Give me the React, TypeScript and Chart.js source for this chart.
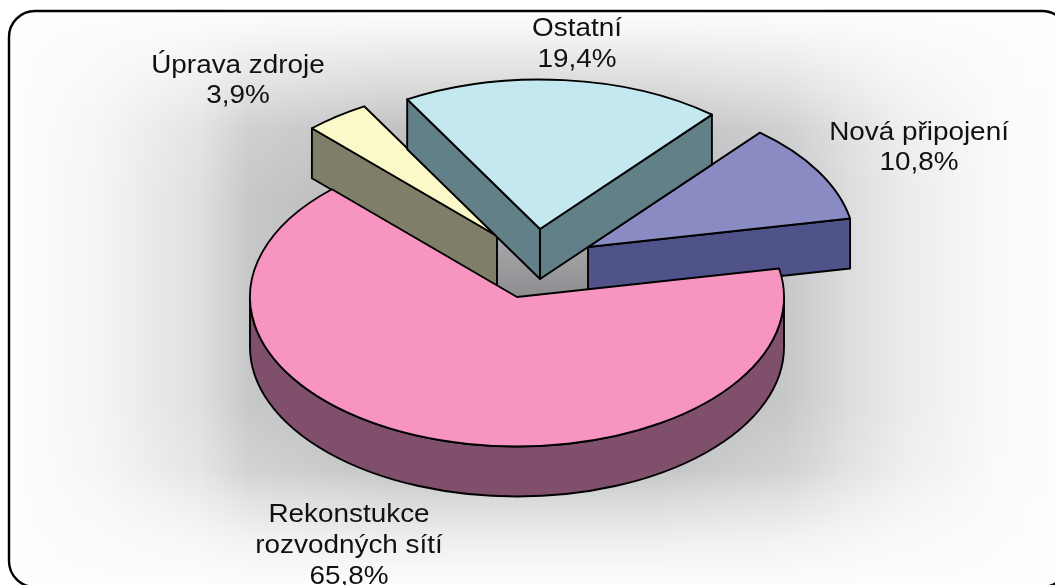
import React, { useEffect, useRef } from "react";
import { Chart, registerables } from "chart.js";

Chart.register(...registerables);

const categories = ["Rekonstukce rozvodných sítí", "Úprava zdroje", "Ostatní", "Nová připojení"];
const shares = [65.8, 3.9, 19.4, 10.8];
const labelLines = [
  ["Rekonstukce", "rozvodných sítí", "65,8%"],
  ["Úprava zdroje", "3,9%"],
  ["Ostatní", "19,4%"],
  ["Nová připojení", "10,8%"],
];
const topColors = ["#F795C0", "#FCF9C8", "#C3E8F0", "#8B8BC4"];
const wallColors = ["#7F4F6B", "#7F7E68", "#628088", "#50538A"];

// presentation of the 3-D view
const SQUASH = 0.56;
const DEPTH = 50;
const explode = [
  { dx: 0, dy: 0 },
  { dx: -20, dy: -61 },
  { dx: 23, dy: -68 },
  { dx: 71, dy: -50 },
];
const labelPos = [
  { x: 349, y: [522, 553, 584] },
  { x: 238, y: [73, 103] },
  { x: 577, y: [36, 67] },
  { x: 919, y: [140, 170] },
];
const glowX: [number, number][] = [
  [9, 0], [30, 0.02], [100, 0.13], [200, 0.42], [250, 0.76], [400, 1],
  [650, 1], [785, 0.76], [850, 0.46], [900, 0.27], [1000, 0.04], [1055, 0],
];
const glowY: [number, number][] = [
  [11, 0], [30, 0.1], [80, 0.45], [130, 0.85], [200, 1], [400, 1],
  [470, 0.8], [500, 0.5], [540, 0.2], [585, 0],
];
const GLOW_MAX = 0.28;

const pie3d = {
  id: "pie3d",
  beforeDraw(chart: any) {
    const { ctx, width, height } = chart;
    ctx.save();
    ctx.fillStyle = "#ffffff";
    ctx.fillRect(0, 0, width, height);

    const layer = document.createElement("canvas");
    layer.width = width;
    layer.height = height;
    const lc = layer.getContext("2d")!;
    const h = lc.createLinearGradient(0, 0, width, 0);
    glowX.forEach(([x, a]) => h.addColorStop(x / width, `rgba(0,2,8,${a * GLOW_MAX})`));
    lc.fillStyle = h;
    lc.fillRect(0, 0, width, height);
    lc.globalCompositeOperation = "destination-in";
    const v = lc.createLinearGradient(0, 0, 0, height);
    glowY.forEach(([y, a]) => v.addColorStop(y / height, `rgba(0,0,0,${a})`));
    lc.fillStyle = v;
    lc.fillRect(0, 0, width, height);

    ctx.beginPath();
    ctx.roundRect(9, 11, 1059, 576, 26);
    ctx.save();
    ctx.clip();
    ctx.fillStyle = "#fdfdfd";
    ctx.fillRect(0, 0, width, height);
    ctx.drawImage(layer, 0, 0);
    ctx.restore();
    ctx.strokeStyle = "#000";
    ctx.lineWidth = 2.4;
    ctx.stroke();
    ctx.restore();
  },
  beforeDatasetsDraw(chart: any) {
    const { ctx } = chart;
    const arcs = chart.getDatasetMeta(0).data;
    const edge = () => {
      ctx.strokeStyle = "#000";
      ctx.lineWidth = 1.9;
      ctx.lineJoin = "round";
      ctx.stroke();
    };
    const geom = (i: number) => {
      const p = arcs[i].getProps(["x", "y", "startAngle", "endAngle", "outerRadius"], true);
      const cx = p.x + explode[i].dx;
      const cy = p.y + explode[i].dy;
      const at = (a: number) => [cx + p.outerRadius * Math.cos(a), cy + p.outerRadius * SQUASH * Math.sin(a)];
      return { ...p, cx, cy, at, ry: p.outerRadius * SQUASH };
    };
    const quad = (a: number[], b: number[], color: string) => {
      ctx.beginPath();
      ctx.moveTo(a[0], a[1]);
      ctx.lineTo(b[0], b[1]);
      ctx.lineTo(b[0], b[1] + DEPTH);
      ctx.lineTo(a[0], a[1] + DEPTH);
      ctx.closePath();
      ctx.fillStyle = color;
      ctx.fill();
      edge();
    };
    const top = (i: number) => {
      const g = geom(i);
      ctx.save();
      ctx.translate(g.x + explode[i].dx, g.y + explode[i].dy);
      ctx.scale(1, SQUASH);
      ctx.translate(-g.x, -g.y);
      arcs[i].draw(ctx);
      ctx.restore();
      ctx.beginPath();
      ctx.moveTo(g.cx, g.cy);
      ctx.ellipse(g.cx, g.cy, g.outerRadius, g.ry, 0, g.startAngle, g.endAngle);
      ctx.closePath();
      edge();
    };

    // inner well seen behind the lifted slices
    const m = geom(0);
    const well = ctx.createLinearGradient(0, m.cy - 60, 0, m.cy);
    well.addColorStop(0, "#a9a9ad");
    well.addColorStop(1, "#8d8d90");
    ctx.beginPath();
    ctx.moveTo(m.cx - 20, m.cy - 61);
    ctx.lineTo(m.cx + 71, m.cy - 61);
    ctx.lineTo(m.cx + 71, m.cy);
    ctx.lineTo(m.cx, m.cy);
    ctx.lineTo(m.cx - 20, m.cy - 11);
    ctx.closePath();
    ctx.fillStyle = well;
    ctx.fill();

    // Úprava zdroje
    const u = geom(1);
    quad(u.at(u.startAngle), [u.cx, u.cy], wallColors[1]);
    top(1);
    // Nová připojení
    const n = geom(3);
    quad([n.cx, n.cy], n.at(n.endAngle), wallColors[3]);
    top(3);
    // Ostatní
    const o = geom(2);
    quad(o.at(o.startAngle), [o.cx, o.cy], wallColors[2]);
    quad([o.cx, o.cy], o.at(o.endAngle), wallColors[2]);
    top(2);
    // Rekonstukce: curved front wall, then the top
    ctx.beginPath();
    ctx.ellipse(m.cx, m.cy + DEPTH, m.outerRadius, m.ry, 0, 0, Math.PI);
    ctx.ellipse(m.cx, m.cy, m.outerRadius, m.ry, 0, Math.PI, 0, true);
    ctx.closePath();
    ctx.fillStyle = wallColors[0];
    ctx.fill();
    edge();
    top(0);
    return false;
  },
  afterDraw(chart: any) {
    const { ctx } = chart;
    ctx.save();
    ctx.font = '25px "Liberation Sans", Arial, sans-serif';
    ctx.fillStyle = "#111111";
    ctx.textAlign = "center";
    ctx.textBaseline = "alphabetic";
    labelLines.forEach((lines, i) => {
      lines.forEach((t, j) => {
        ctx.save();
        ctx.translate(labelPos[i].x, labelPos[i].y[j]);
        ctx.scale(1.115, 1);
        ctx.fillText(t, 0, 0);
        ctx.restore();
      });
    });
    ctx.restore();
  },
};

export default function App() {
  const ref = useRef<HTMLCanvasElement>(null);
  useEffect(() => {
    const chart = new Chart(ref.current!, {
      type: "pie",
      data: {
        labels: categories,
        datasets: [
          {
            data: shares,
            backgroundColor: topColors,
            borderWidth: 0,
          },
        ],
      },
      options: {
        responsive: false,
        animation: false,
        rotation: 79,
        layout: { padding: { left: 250, right: 271, top: 30, bottom: 21 } },
        plugins: { legend: { display: false }, tooltip: { enabled: false } },
      },
      plugins: [pie3d],
    } as any);
    return () => chart.destroy();
  }, []);
  return (
    <div style={{ position: "absolute", left: 0, top: 0, width: 1055, height: 585, overflow: "hidden" }}>
      <canvas ref={ref} width={1055} height={585} style={{ display: "block" }} />
    </div>
  );
}
